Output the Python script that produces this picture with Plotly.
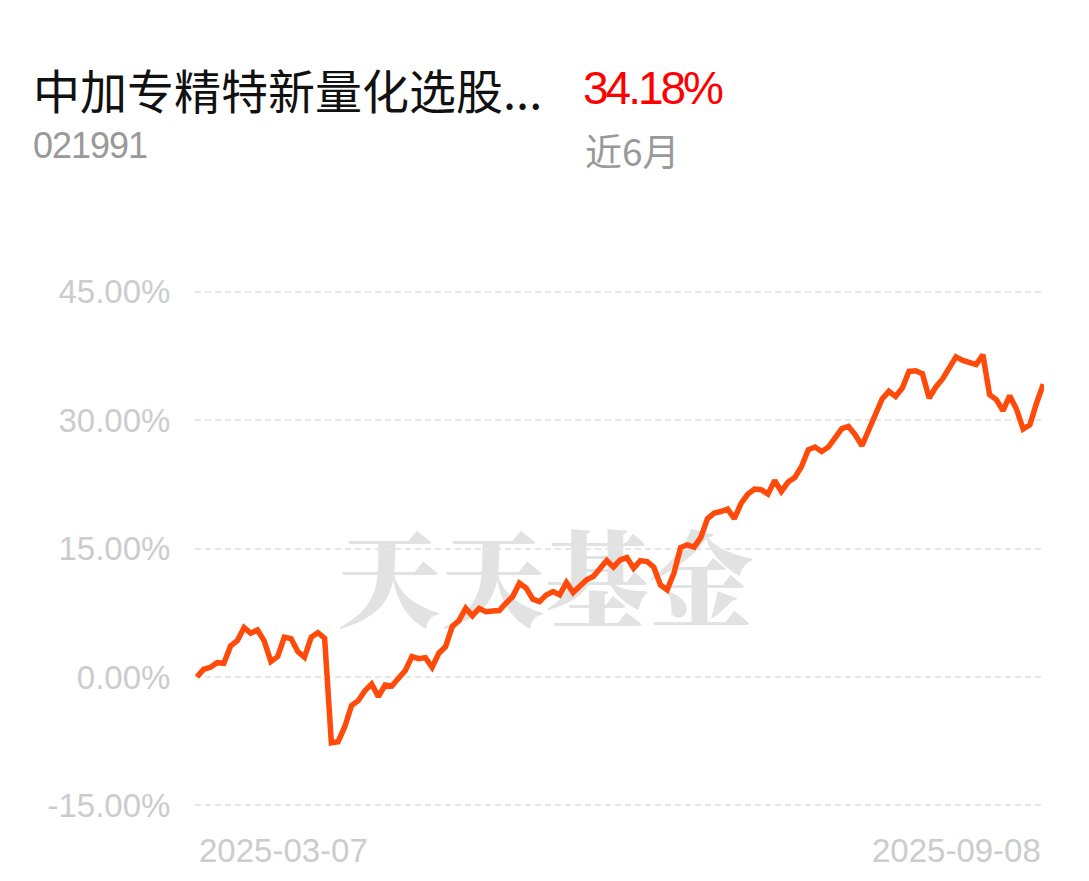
import plotly.graph_objects as go

# ---- data ----
fund_name = "中加专精特新量化选股..."
fund_code = "021991"
period_label = "近6月"
period_return = "34.18%"
start_date = "2025-03-07"
end_date = "2025-09-08"
y_ticks = [-15, 0, 15, 30, 45]
y_tick_labels = ["-15.00%", "0.00%", "15.00%", "30.00%", "45.00%"]

returns = [
    0.00, 0.90, 1.13, 1.67, 1.60, 3.62, 4.24, 5.76, 5.11, 5.49,
    4.21, 1.79, 2.37, 4.64, 4.48, 2.96, 2.30, 4.64, 5.18, 4.52,
    -7.68, -7.56, -5.81, -3.35, -2.77, -1.60, -0.82, -2.30, -0.94, -1.05,
    -0.15, 0.74, 2.37, 2.14, 2.26, 1.13, 2.77, 3.54, 5.88, 6.58,
    8.03, 7.13, 8.01, 7.63, 7.71, 7.75, 8.61, 9.39, 10.95, 10.37,
    9.08, 8.80, 9.58, 9.97, 9.58, 11.02, 9.85, 10.64, 11.34, 11.72,
    12.59, 13.59, 12.82, 13.67, 13.94, 12.70, 13.59, 13.48, 12.82, 10.75,
    10.17, 12.12, 15.11, 15.43, 15.16, 16.30, 18.49, 19.13, 19.32, 19.60,
    18.49, 20.26, 21.35, 21.94, 21.86, 21.35, 22.94, 21.66, 22.76, 23.29,
    24.58, 26.53, 26.85, 26.33, 26.85, 27.97, 28.99, 29.25, 28.28, 27.00,
    28.87, 30.74, 32.46, 33.35, 32.76, 33.74, 35.68, 35.76, 35.41, 32.57,
    33.86, 34.79, 35.96, 37.37, 36.97, 36.73, 36.47, 37.63, 32.96, 32.38,
    31.09, 32.84, 31.29, 28.95, 29.45, 31.99, 34.18,
]
x_idx = list(range(len(returns)))

# ---- layout geometry (pixels, page coordinates; page body has 8px margin) ----
OFF = 8
W, H = 1089 - OFF, 881 - OFF
L, T = 195 - OFF, 289 - OFF
R, B = 45, 73
PW, PH = W - L - R, H - T - B


def px(xp):
    return (xp - OFF - L) / PW


def py(yp):
    return 1 - (yp - OFF - T) / PH


fig = go.Figure()
fig.add_trace(go.Scatter(
    x=x_idx, y=returns, mode="lines",
    line=dict(color="#ff4a0a", width=5.5, shape="linear"),
    hoverinfo="skip", showlegend=False,
))

grey_ticks = "#cccccc"
fig.update_layout(
    width=W, height=H,
    margin=dict(l=L, r=R, t=T, b=B, pad=0),
    paper_bgcolor="white", plot_bgcolor="white",
    showlegend=False,
    xaxis=dict(
        range=[-0.3, len(returns) - 1 + 0.1],
        showgrid=False, zeroline=False, showline=False,
        showticklabels=False, ticks="",
    ),
    yaxis=dict(
        range=[-15.3, 45.3],
        tickvals=y_ticks, ticktext=y_tick_labels,
        showgrid=True, gridcolor="#e6e6e6", gridwidth=2, griddash="6px,4px",
        zeroline=False, showline=False,
        ticks="outside", ticklen=17, tickcolor="rgba(0,0,0,0)",
        tickfont=dict(family="Liberation Sans, Arial, sans-serif", size=33, color=grey_ticks),
    ),
)

annotations = [
    dict(text=fund_name, xref="paper", yref="paper", x=px(31), y=py(88),
         xanchor="left", yanchor="middle", showarrow=False,
         font=dict(family="Noto Sans CJK SC", size=47, color="#111111")),
    dict(text='<span style="letter-spacing:-3px">' + period_return + '</span>',
         xref="paper", yref="paper", x=px(581), y=py(88),
         xanchor="left", yanchor="middle", showarrow=False,
         font=dict(family="Liberation Sans Narrow, Liberation Sans, sans-serif", size=46, color="#ff0000")),
    dict(text='<span style="letter-spacing:-1px">' + fund_code + '</span>',
         xref="paper", yref="paper", x=px(31), y=py(145),
         xanchor="left", yanchor="middle", showarrow=False,
         font=dict(family="Liberation Sans Narrow, Liberation Sans, sans-serif", size=36, color="#999999")),
    dict(text=period_label, xref="paper", yref="paper", x=px(583), y=py(150),
         xanchor="left", yanchor="middle", showarrow=False,
         font=dict(family="Noto Sans CJK SC", size=37, color="#999999")),
    dict(text=start_date, xref="x", yref="paper", x=0, y=py(850),
         xanchor="left", yanchor="middle", showarrow=False,
         font=dict(family="Liberation Sans, Arial, sans-serif", size=33, color=grey_ticks)),
    dict(text=end_date, xref="x", yref="paper", x=len(returns) - 1, y=py(850),
         xanchor="right", yanchor="middle", showarrow=False,
         font=dict(family="Liberation Sans, Arial, sans-serif", size=33, color=grey_ticks)),
]
fig.update_layout(annotations=annotations)

# watermark below the line
fig.add_shape(
    type="rect", xref="paper", yref="paper",
    x0=px(330), x1=px(760), y0=py(645), y1=py(535),
    line=dict(width=0), fillcolor="rgba(0,0,0,0)", layer="below",
    label=dict(text="天天基金", textposition="middle center",
               font=dict(family="Noto Serif CJK SC, Noto Sans CJK SC", size=104,
                         color="#e2e2e2", weight=900)),
)

fig.write_html("out.html")
